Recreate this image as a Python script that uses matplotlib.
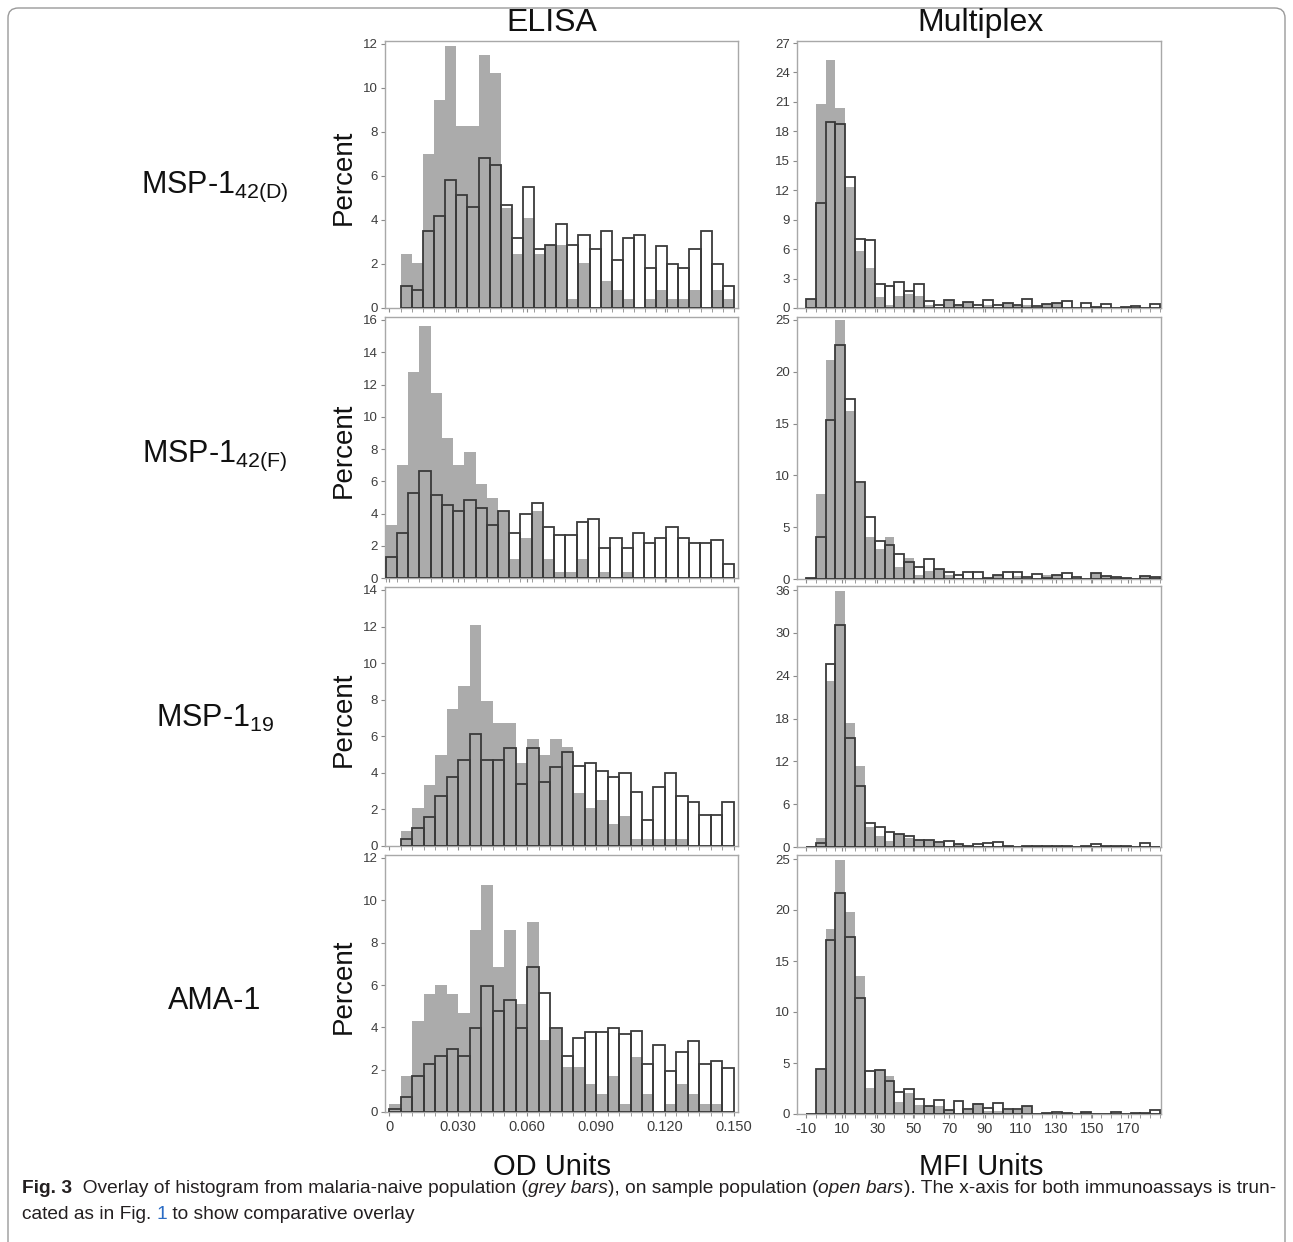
import matplotlib
matplotlib.use("Agg")
import matplotlib.pyplot as plt
import numpy as np
from matplotlib.patches import FancyBboxPatch

plt.rcParams['font.family'] = ['Liberation Sans', 'DejaVu Sans']
plt.rcParams['mathtext.fontset'] = 'custom'
plt.rcParams['mathtext.rm'] = 'Liberation Sans'

# ---------------- data (percent per bin) ----------------
row_labels = [r"MSP-1$_{\mathrm{42(D)}}$", r"MSP-1$_{\mathrm{42(F)}}$", r"MSP-1$_{\mathrm{19}}$", "AMA-1"]
col_titles = ["ELISA", "Multiplex"]
x_titles = ["OD Units", "MFI Units"]

elisa_start = [0.005, -0.0016, 0.005, 0.0]
elisa_end = 0.150
elisa_gray = [
    [2.45, 2.04, 7.0, 9.47, 11.9, 8.28, 8.28, 11.5, 10.67, 4.54, 2.45, 4.1, 2.45, 2.85, 2.85,
     0.42, 2.04, 0, 1.24, 0.82, 0.42, 0, 0.42, 0.82, 0.42, 0.42, 0.82, 0, 0.82, 0.42],
    [3.3, 7.0, 12.8, 15.6, 11.5, 8.66, 7.0, 7.8, 5.8, 4.98, 4.18, 1.19, 2.5, 4.14, 1.19, 0.4,
     0.4, 1.19, 0, 0.4, 0, 0.4, 0, 0, 0, 0, 0, 0, 0, 0, 0],
    [0.82, 2.1, 3.34, 5.0, 7.49, 8.75, 12.06, 7.93, 6.7, 6.7, 4.56, 5.83, 5.0, 5.83, 5.44, 2.9,
     2.1, 2.52, 1.22, 1.65, 0.4, 0.4, 0.4, 0.4, 0.4, 0, 0, 0, 0],
    [0.4, 1.7, 4.29, 5.58, 5.98, 5.58, 4.7, 8.6, 10.72, 6.86, 8.6, 5.12, 8.97, 3.42, 3.92, 2.13,
     2.13, 1.3, 0.83, 1.7, 0.4, 2.6, 0.83, 0, 0.4, 1.3, 0.83, 0.4, 0.4, 0],
]
elisa_open = [
    [0.98, 0.82, 3.49, 4.17, 5.83, 5.14, 4.6, 6.84, 6.5, 4.66, 3.19, 5.5, 2.69, 2.85, 3.84,
     2.85, 3.34, 2.69, 3.5, 2.2, 3.17, 3.34, 1.84, 2.82, 1.99, 1.84, 2.69, 3.5, 1.99, 0.98],
    [1.32, 2.82, 5.3, 6.63, 5.15, 4.5, 4.18, 4.82, 4.32, 3.3, 4.14, 2.82, 3.98, 4.67, 3.17, 2.64,
     2.64, 3.48, 3.66, 1.85, 2.5, 1.85, 2.82, 2.15, 2.5, 3.15, 2.5, 2.15, 2.15, 2.33, 0.84],
    [0.39, 1.01, 1.6, 2.76, 3.75, 4.7, 6.12, 4.7, 4.7, 5.34, 3.4, 5.34, 3.5, 4.3, 5.15, 4.37,
     4.56, 4.12, 3.78, 3.98, 2.95, 1.4, 3.2, 3.98, 2.76, 2.39, 1.7, 1.7, 2.4],
    [0.13, 0.7, 1.7, 2.29, 2.63, 2.99, 2.63, 3.99, 5.95, 4.75, 5.28, 3.99, 6.86, 5.62, 3.99, 2.63,
     3.49, 3.79, 3.79, 3.99, 3.7, 3.82, 2.29, 3.16, 1.93, 2.83, 3.36, 2.29, 2.43, 2.1],
]
elisa_ymax = [12, 16, 14, 12]
elisa_ystep = [2, 2, 2, 2]
elisa_xticks = [0, 0.030, 0.060, 0.090, 0.120, 0.150]
elisa_xticklabels = ["0", "0.030", "0.060", "0.090", "0.120", "0.150"]

mfi_start = -10.0
mfi_width = 5.5
mfi_gray = [
    [0.93, 20.8, 25.3, 20.4, 12.3, 5.76, 4.1, 1.1, 0.3, 1.2, 1.4, 1.2, 0.3, 0, 0.8, 0.3, 0.6, 0,
     0.3, 0, 0.5, 0.3, 0.3, 0, 0.4, 0.5, 0, 0, 0, 0, 0, 0, 0, 0, 0, 0],
    [0, 8.2, 21.1, 25.0, 16.2, 9.26, 4.1, 2.9, 4.1, 1.2, 2.0, 0.4, 0.8, 1.0, 0.4, 0, 0, 0, 0, 0.4,
     0, 0.3, 0, 0, 0.4, 0.4, 0, 0, 0, 0.6, 0.3, 0.2, 0, 0, 0.3, 0.2],
    [0, 1.2, 23.3, 35.9, 17.3, 11.4, 2.76, 1.6, 0.85, 1.8, 1.2, 1.0, 1.0, 0.6, 0.2, 0.4, 0, 0, 0,
     0, 0, 0, 0, 0, 0, 0, 0, 0, 0, 0, 0, 0, 0, 0, 0, 0],
    [0, 4.34, 18.16, 24.9, 19.8, 13.54, 2.53, 4.34, 3.7, 1.2, 2.1, 0.87, 0.8, 0.8, 0.4, 0, 0.4,
     1.1, 0.3, 0.3, 0.4, 0.4, 0.8, 0, 0, 0, 0, 0, 0.2, 0, 0, 0, 0, 0, 0, 0],
]
mfi_open = [
    [0.93, 10.7, 19.0, 18.7, 13.35, 7.0, 6.9, 2.4, 2.2, 2.6, 1.75, 2.4, 0.7, 0.26, 0.8, 0.3, 0.6,
     0.3, 0.8, 0.3, 0.5, 0.3, 0.9, 0.2, 0.4, 0.5, 0.7, 0, 0.5, 0.1, 0.4, 0, 0.1, 0.2, 0, 0.4],
    [0.05, 4.1, 15.35, 22.56, 17.4, 9.4, 5.95, 3.7, 3.27, 2.4, 1.6, 1.2, 1.9, 1.0, 0.7, 0.4, 0.7,
     0.7, 0.1, 0.4, 0.7, 0.7, 0.2, 0.5, 0.1, 0.4, 0.6, 0.2, 0, 0.6, 0.3, 0.2, 0.1, 0, 0.3, 0.2],
    [0, 0.5, 25.6, 31.1, 15.2, 8.6, 3.3, 2.86, 2.1, 1.8, 1.5, 1.0, 1.0, 0.7, 0.8, 0.4, 0.2, 0.4,
     0.6, 0.7, 0.2, 0, 0.1, 0.1, 0.1, 0.1, 0.1, 0, 0.1, 0.4, 0.2, 0.2, 0.2, 0, 0.5, 0],
    [0, 4.4, 17.1, 21.7, 17.36, 11.35, 4.17, 4.34, 3.23, 2.19, 2.43, 1.46, 0.8, 1.4, 0.4, 1.28,
     0.5, 1.0, 0.6, 1.1, 0.5, 0.5, 0.8, 0, 0.1, 0.15, 0.1, 0, 0.2, 0, 0, 0.2, 0, 0.1, 0.1, 0.4],
]
mfi_ymax = [27, 25, 36, 25]
mfi_ystep = [3, 5, 6, 5]
mfi_xticks = [-10, 10, 30, 50, 70, 90, 110, 130, 150, 170]

# ---------------- layout (pixels) ----------------
W, H = 1293, 1242
fig = plt.figure(figsize=(W / 100, H / 100), dpi=100)

GRAY = "#ababab"
EDGE = "#3a3a3a"
FRAME = "#a8a8a8"
TICKC = "#3c3c3c"

col_lr = [(385, 738), (797, 1161)]
# pixel row of the 0 line, of the top tick, and the gap above the top tick
y0_px = [[308, 578, 846, 1112], [308, 579, 847, 1114]]
ytop_px = [[44, 320, 590, 858], [43, 320, 590, 859]]
pad_px = [[3, 3, 3, 3], [2, 3, 4, 4]]


def px_axes(l, r, t, b):
    return fig.add_axes([l / W, 1 - b / H, (r - l) / W, (b - t) / H])


def draw_panel(ax, starts, width, gray, opn):
    x = starts + width * np.arange(len(gray))
    ax.bar(x, opn, width=width, align='edge', color='white', edgecolor='none', zorder=1)
    ax.bar(x, gray, width=width, align='edge', color=GRAY, edgecolor='none', zorder=2)
    ax.bar(x, opn, width=width, align='edge', fill=False, edgecolor=EDGE, linewidth=1.3, zorder=3)
    return np.append(x, x[-1] + width)


def style(ax):
    for s in ax.spines.values():
        s.set_color(FRAME)
        s.set_linewidth(1.0)
    ax.tick_params(axis='both', which='both', direction='out', color='#8a8a8a',
                   labelcolor=TICKC, labelsize=9.5)
    ax.tick_params(axis='y', length=3, pad=2)
    ax.tick_params(axis='x', which='major', length=3, labelsize=10.5, pad=3)
    ax.tick_params(axis='x', which='minor', length=3)


def make_axes(c, r, ymax):
    y0, yt, pad = y0_px[c][r], ytop_px[c][r], pad_px[c][r]
    top = yt - pad
    ax = px_axes(col_lr[c][0], col_lr[c][1], top, y0)
    ax.set_ylim(0, ymax * (y0 - top) / (y0 - yt))
    return ax, top, y0


for r in range(4):
    # ELISA
    ax, t, b = make_axes(0, r, elisa_ymax[r])
    n = len(elisa_gray[r])
    wdt = (elisa_end - elisa_start[r]) / n
    edges = draw_panel(ax, elisa_start[r], wdt, elisa_gray[r], elisa_open[r])
    ax.set_xlim(-0.0019, 0.1518)
    ax.set_yticks(np.arange(0, elisa_ymax[r] + 0.01, elisa_ystep[r]))
    ax.set_xticks(elisa_xticks)
    ax.set_xticks(edges, minor=True)
    if r == 3:
        ax.set_xticklabels(elisa_xticklabels)
    else:
        ax.set_xticklabels([])
    style(ax)
    fig.text(344 / W, 1 - ((t + b) / 2 + 3) / H, "Percent", rotation=90, fontsize=20,
             ha='center', va='center', color='#111111')

    # Multiplex
    ax, t, b = make_axes(1, r, mfi_ymax[r])
    edges = draw_panel(ax, mfi_start, mfi_width, mfi_gray[r], mfi_open[r])
    ax.set_xlim(-15.0, 188.5)
    ax.set_yticks(np.arange(0, mfi_ymax[r] + 0.01, mfi_ystep[r]))
    ax.set_xticks(mfi_xticks)
    ax.set_xticks(edges, minor=True)
    if r == 3:
        ax.set_xticklabels([str(v) for v in mfi_xticks])
    else:
        ax.set_xticklabels([])
    style(ax)

# row labels
row_label_base = [193, 462, 727, 1009]
for lab, y in zip(row_labels, row_label_base):
    fig.text(215 / W, 1 - y / H, lab, fontsize=22, ha='center', va='baseline', color='#111111')

# column titles and x titles
col_cx = [552, 981]
for name, cx in zip(col_titles, col_cx):
    fig.text(cx / W, 1 - 31 / H, name, fontsize=23, ha='center', va='baseline', color='#111111')
for name, cx in zip(x_titles, col_cx):
    fig.text(cx / W, 1 - 1175 / H, name, fontsize=21, ha='center', va='baseline', color='#111111')

# caption
renderer = fig.canvas.get_renderer()
CAP = "#231f20"
cap_size = 13.75


def runs(x, y, parts):
    for txt, kw in parts:
        tt = fig.text(x / W, 1 - y / H, txt, fontsize=cap_size, ha='left', va='baseline',
                      color=kw.get('color', CAP), fontweight=kw.get('weight', 'normal'),
                      fontstyle=kw.get('style', 'normal'))
        bb = tt.get_window_extent(renderer)
        x += bb.width


runs(22, 1193, [("Fig. 3", {'weight': 'bold'}),
                ("  Overlay of histogram from malaria-naive population (", {}),
                ("grey bars", {'style': 'italic'}),
                ("), on sample population (", {}),
                ("open bars", {'style': 'italic'}),
                ("). The x-axis for both immunoassays is trun-", {})])
runs(22, 1219, [("cated as in Fig. ", {}),
                ("1", {'color': '#2b6cc4'}),
                (" to show comparative overlay", {})])

# rounded border
box = FancyBboxPatch((8 / W, -0.05), (1285 - 8) / W, (1 - 8 / H) + 0.05,
                     boxstyle="round,pad=0,rounding_size=0.008", transform=fig.transFigure,
                     fill=False, edgecolor='#9a9a9a', linewidth=1.0)
fig.patches.append(box)

fig.savefig("out.png", dpi=100)
